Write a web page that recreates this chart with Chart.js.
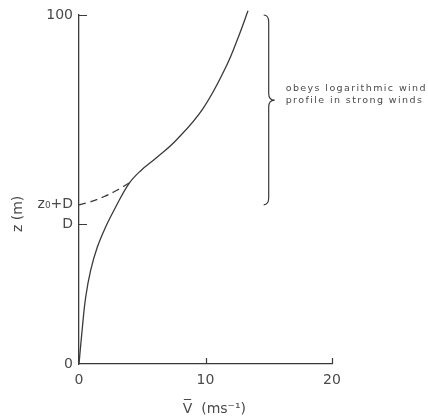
<!DOCTYPE html>
<html>
<head>
<meta charset="utf-8">
<script src="https://cdn.jsdelivr.net/npm/chart.js@4.4.1/dist/chart.umd.min.js"></script>
<style>
  html, body { margin: 0; padding: 0; background: #fff; }
  #wrap { width: 428px; height: 420px; }
</style>
</head>
<body>
<div id="wrap"><canvas id="profileChart" width="428" height="420"></canvas></div>
<script>
// Mean wind speed (m/s) against height (m) through the canopy layer
const profileSpeed = [0, 0.27, 0.53, 0.92, 1.45, 2.11, 2.90, 3.95, 4.88, 6.12, 7.70, 9.80, 11.65, 12.6, 13.36];
const profileHeight = [0, 10.6, 19.2, 26.8, 33.5, 39.3, 45.0, 51.7, 55.4, 59.1, 64.2, 73.2, 85.4, 93.7, 101.2];

// Log law carried down to z0 + D (dashed)
const logSpeed = [0, 1, 2, 3, 4.2];
const logHeight = [45.6, 46.6, 48.0, 49.8, 52.4];

const xTicks = [0, 10, 20];
const yTicks = [0, 40.1, 45.6, 100];
const yTickLabels = ['0', 'D', 'z₀+D', '100'];
const markedY = ['D', '100'];   // labels that get a tick mark
const markedX = [10, 20];

const xTitle = 'V\u0305  (ms\u207B\u00B9)';
const yTitle = 'z (m)';
const note = ['obeys logarithmic wind', 'profile in strong winds'];

// brace spanning the log-law region
const braceX = 14.6;
const braceTop = 100;
const braceBottom = 45.6;
const braceTip = 75.6;

const ink = '#3a3a3a';
const textInk = '#4a4a4a';
const tickFont = { family: 'DejaVu Sans', size: 14 };

const pairs = (xs, ys) => xs.map((v, i) => ({ x: v, y: ys[i] }));

// inward ticks, the brace, its note and the axis titles
const extras = {
    id: 'extras',
    afterDraw(chart) {
        const { ctx, chartArea, scales: { x, y } } = chart;
        ctx.save();
        ctx.strokeStyle = ink;
        ctx.lineWidth = 1.2;

        ctx.beginPath();
        yTicks.forEach((v, i) => {
            if (!markedY.includes(yTickLabels[i])) return;
            const py = Math.round(y.getPixelForValue(v)) + 0.5;
            ctx.moveTo(chartArea.left, py);
            ctx.lineTo(chartArea.left + 8, py);
        });
        markedX.forEach(v => {
            const px = Math.round(x.getPixelForValue(v)) + 0.5;
            ctx.moveTo(px, chartArea.bottom);
            ctx.lineTo(px, chartArea.bottom - 6);
        });
        ctx.stroke();

        // brace
        const bx = x.getPixelForValue(braceX);
        const t = y.getPixelForValue(braceTop);
        const b = y.getPixelForValue(braceBottom);
        const m = y.getPixelForValue(braceTip);
        ctx.beginPath();
        ctx.moveTo(bx, t);
        ctx.quadraticCurveTo(bx + 5, t, bx + 5, t + 7);
        ctx.lineTo(bx + 5, m - 7);
        ctx.quadraticCurveTo(bx + 5, m, bx + 11, m);
        ctx.quadraticCurveTo(bx + 5, m, bx + 5, m + 7);
        ctx.lineTo(bx + 5, b - 7);
        ctx.quadraticCurveTo(bx + 5, b, bx, b);
        ctx.stroke();

        ctx.fillStyle = textInk;
        ctx.font = '9.5px "DejaVu Sans"';
        ctx.letterSpacing = '1.4px';
        ctx.textAlign = 'left';
        ctx.textBaseline = 'middle';
        ctx.fillText(note[0], bx + 22, m - 12);
        ctx.fillText(note[1], bx + 22, m);
        ctx.letterSpacing = '0px';

        ctx.font = '14px "DejaVu Sans"';
        ctx.textAlign = 'center';
        ctx.fillText(xTitle, x.getPixelForValue(10.7), 409);

        ctx.translate(18, y.getPixelForValue(43));
        ctx.rotate(-Math.PI / 2);
        ctx.fillText(yTitle, 0, 0);
        ctx.restore();
    }
};

new Chart(document.getElementById('profileChart'), {
    type: 'scatter',
    data: {
        datasets: [
            {
                data: pairs(profileSpeed, profileHeight),
                showLine: true,
                borderColor: ink,
                borderWidth: 1.3,
                pointRadius: 0,
                tension: 0.4,
                clip: false
            },
            {
                data: pairs(logSpeed, logHeight),
                showLine: true,
                borderColor: ink,
                borderWidth: 1.3,
                borderDash: [7, 5],
                pointRadius: 0,
                tension: 0.4,
                clip: false
            }
        ]
    },
    options: {
        responsive: false,
        animation: false,
        events: [],
        layout: { padding: { top: 15, right: 96, left: 0, bottom: 0 } },
        plugins: {
            legend: { display: false },
            tooltip: { enabled: false }
        },
        scales: {
            x: {
                type: 'linear',
                min: 0,
                max: 20,
                afterBuildTicks: s => { s.ticks = xTicks.map(v => ({ value: v })); },
                afterFit: s => { s.height = 56; },
                grid: { display: false, drawTicks: false },
                border: { color: ink, width: 1.3 },
                ticks: { color: textInk, font: tickFont, padding: 8, maxRotation: 0 }
            },
            y: {
                type: 'linear',
                min: 0,
                max: 100,
                afterBuildTicks: s => { s.ticks = yTicks.map(v => ({ value: v })); },
                afterFit: s => { s.width = 79; },
                grid: { display: false, drawTicks: false },
                border: { color: ink, width: 1.3 },
                ticks: {
                    color: textInk,
                    font: tickFont,
                    padding: 6,
                    autoSkip: false,
                    callback: (v, i) => yTickLabels[i]
                }
            }
        }
    },
    plugins: [extras]
});
</script>
</body>
</html>
